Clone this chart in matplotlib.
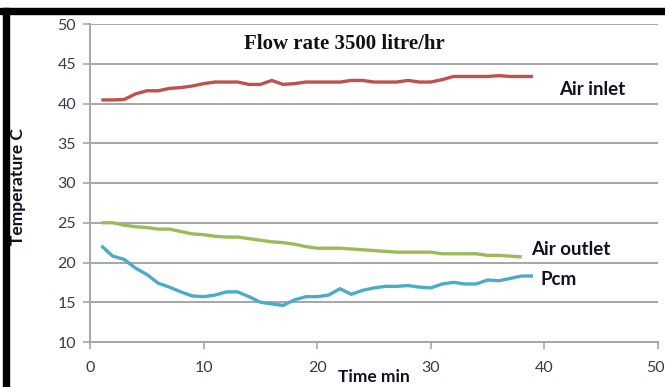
import matplotlib
matplotlib.use("Agg")
import matplotlib.pyplot as plt
from matplotlib.patches import Rectangle
from matplotlib.transforms import ScaledTranslation

time_inlet = list(range(1, 40))
air_inlet = [40.45, 40.45, 40.5, 41.2, 41.6, 41.6, 41.9, 42.0, 42.2, 42.5,
             42.7, 42.7, 42.7, 42.4, 42.4, 42.9, 42.4, 42.5, 42.7, 42.7,
             42.7, 42.7, 42.9, 42.9, 42.7, 42.7, 42.7, 42.9, 42.7, 42.7,
             43.0, 43.4, 43.4, 43.4, 43.4, 43.5, 43.4, 43.4, 43.4]
time_outlet = list(range(1, 39))
air_outlet = [25.0, 25.0, 24.7, 24.5, 24.4, 24.2, 24.2, 23.9, 23.6, 23.5,
              23.3, 23.2, 23.2, 23.0, 22.8, 22.6, 22.5, 22.3, 22.0, 21.8,
              21.8, 21.8, 21.7, 21.6, 21.5, 21.4, 21.3, 21.3, 21.3, 21.3,
              21.1, 21.1, 21.1, 21.1, 20.9, 20.9, 20.8, 20.7]
time_pcm = list(range(1, 40))
pcm = [22.1, 20.8, 20.4, 19.3, 18.5, 17.4, 16.9, 16.3, 15.8, 15.7,
       15.9, 16.3, 16.3, 15.7, 15.0, 14.8, 14.6, 15.3, 15.7, 15.7,
       15.9, 16.7, 16.0, 16.5, 16.8, 17.0, 17.0, 17.1, 16.9, 16.8,
       17.3, 17.5, 17.3, 17.3, 17.8, 17.7, 18.0, 18.3, 18.3]

x_ticks = [0, 10, 20, 30, 40, 50]
y_ticks = [10, 15, 20, 25, 30, 35, 40, 45, 50]

fig = plt.figure(figsize=(6.65, 3.87), dpi=100)
ax = fig.add_axes([90/665, 1-342/387, (658-90)/665, (342-24)/387])

ax.plot(time_inlet, air_inlet, color="#C0504D", lw=2.4, solid_capstyle="butt")
ax.plot(time_outlet, air_outlet, color="#9BBB59", lw=2.4, solid_capstyle="butt")
ax.plot(time_pcm, pcm, color="#4BACC6", lw=2.4, solid_capstyle="butt")

ax.set_xlim(0, 50)
ax.set_ylim(10, 50)
ax.set_xticks(x_ticks)
ax.set_yticks(y_ticks)
ax.grid(axis="y", color="#a6a6a6", lw=1.4)
ax.set_axisbelow(True)
for s in ["top", "right"]:
    ax.spines[s].set_visible(False)
for s in ["left", "bottom"]:
    ax.spines[s].set_color("#a6a6a6")
    ax.spines[s].set_linewidth(1.4)
ax.tick_params(colors="#a6a6a6", length=5, width=1.2, labelcolor="#3a3a4a",
               labelsize=11.5)
ax.tick_params(axis="x", pad=9)
ax.tick_params(axis="y", pad=5)
for lab in ax.get_xticklabels() + ax.get_yticklabels():
    lab.set_family("Lato")
last = ax.get_xticklabels()[-1]
last.set_transform(last.get_transform() +
                   ScaledTranslation(-3/100, 0, fig.dpi_scale_trans))

ax.text(22.4, 47.5, "Flow rate 3500 litre/hr", family="Liberation Serif",
        weight="bold", fontsize=15, ha="center", va="center", color="#111111")
ax.text(41.3, 41.7, "Air inlet", family="Lato", weight="bold", fontsize=13.5,
        ha="left", va="center", color="#111122")
ax.text(38.8, 21.6, "Air outlet", family="Lato", weight="bold", fontsize=13.5,
        ha="left", va="center", color="#111122")
ax.text(39.7, 17.8, "Pcm", family="Lato", weight="bold", fontsize=13.5,
        ha="left", va="center", color="#111122")

fig.text(18/665, 1-187/387, "Temperature C", family="Lato", weight="bold",
         fontsize=12.5, rotation=90, ha="center", va="center", color="#111122")
fig.text(374/665, 1-377/387, "Time min", family="Lato", weight="bold",
         fontsize=12.5, ha="center", va="center", color="#111122")

fig.patches.append(Rectangle((0, 1-14/387), 1, 6/387, transform=fig.transFigure,
                             color="black", zorder=10))
fig.patches.append(Rectangle((3/665, 0), 6/665, 1-8/387, transform=fig.transFigure,
                             color="black", zorder=10))

fig.savefig("out.png", dpi=100)
